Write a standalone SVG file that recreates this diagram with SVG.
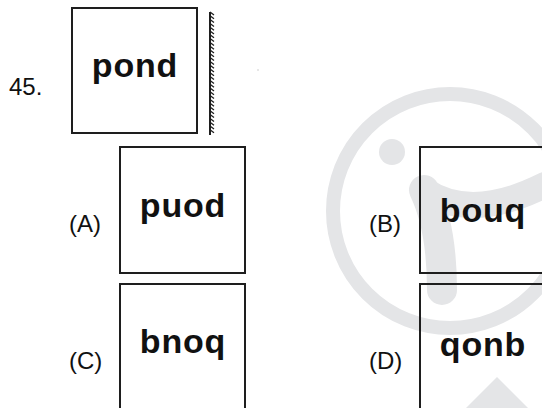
<svg xmlns="http://www.w3.org/2000/svg" width="542" height="408" viewBox="0 0 542 408">
  <style>
    .box { fill: none; stroke: #1e1e1e; stroke-width: 2; }
    .word { font-family: "Liberation Sans", Arial, sans-serif; font-weight: bold; font-size: 34px; letter-spacing: 0.8px; fill: #111111; text-anchor: middle; }
    .lbl { font-family: "Liberation Sans", Arial, sans-serif; font-size: 24px; fill: #111111; }
    .wm { fill: #e4e5e7; }
  </style>
  <rect width="542" height="408" fill="#ffffff"/>
  <g id="watermark">
    <circle cx="450" cy="211" r="117" fill="none" stroke="#e4e5e7" stroke-width="14"/>
    <circle class="wm" cx="392" cy="152" r="13"/>
    <path d="M 442 290 C 442 250 436 215 424 190" fill="none" stroke="#e4e5e7" stroke-width="30" stroke-linecap="round"/>
    <path d="M 424 190 C 460 215 505 205 545 185" fill="none" stroke="#e4e5e7" stroke-width="26" stroke-linecap="round"/>
    <path class="wm" d="M 497 377 L 532 412 L 462 412 Z"/>
    <circle cx="258" cy="70" r="0.8" fill="#c8c8c8"/>
  </g>
  <g id="question">
    <text class="lbl" x="9" y="95">45.</text>
    <rect class="box" x="72" y="8" width="125" height="125"/>
    <text class="word" x="135" y="77">pond</text>
  </g>
  <g id="mirror">
    <line x1="210" y1="12" x2="210" y2="135" stroke="#1e1e1e" stroke-width="2"/>
    <path d="M210 12 l4 3 M210 15.8 l4 3 M210 19.6 l4 3 M210 23.4 l4 3 M210 27.2 l4 3 M210 31 l4 3 M210 34.8 l4 3 M210 38.6 l4 3 M210 42.4 l4 3 M210 46.2 l4 3 M210 50 l4 3 M210 53.8 l4 3 M210 57.6 l4 3 M210 61.4 l4 3 M210 65.2 l4 3 M210 69 l4 3 M210 72.8 l4 3 M210 76.6 l4 3 M210 80.4 l4 3 M210 84.2 l4 3 M210 88 l4 3 M210 91.8 l4 3 M210 95.6 l4 3 M210 99.4 l4 3 M210 103.2 l4 3 M210 107 l4 3 M210 110.8 l4 3 M210 114.6 l4 3 M210 118.4 l4 3 M210 122.2 l4 3 M210 126 l4 3 M210 129.8 l4 3" stroke="#1e1e1e" stroke-width="1.3" fill="none"/>
  </g>
  <g id="optionA">
    <text class="lbl" x="69" y="232">(A)</text>
    <rect class="box" x="120" y="147" width="125" height="126"/>
    <text class="word" x="183" y="217">puod</text>
  </g>
  <g id="optionB">
    <text class="lbl" x="369" y="232">(B)</text>
    <rect class="box" x="420" y="147" width="125" height="126"/>
    <text class="word" x="483" y="222">bouq</text>
  </g>
  <g id="optionC">
    <text class="lbl" x="69" y="369">(C)</text>
    <rect class="box" x="120" y="284" width="125" height="126"/>
    <text class="word" x="183" y="353">bnoq</text>
  </g>
  <g id="optionD">
    <text class="lbl" x="369" y="369">(D)</text>
    <rect class="box" x="420" y="284" width="125" height="126"/>
    <text class="word" x="483" y="356">qonb</text>
  </g>
  <g id="connectors"/>
</svg>
